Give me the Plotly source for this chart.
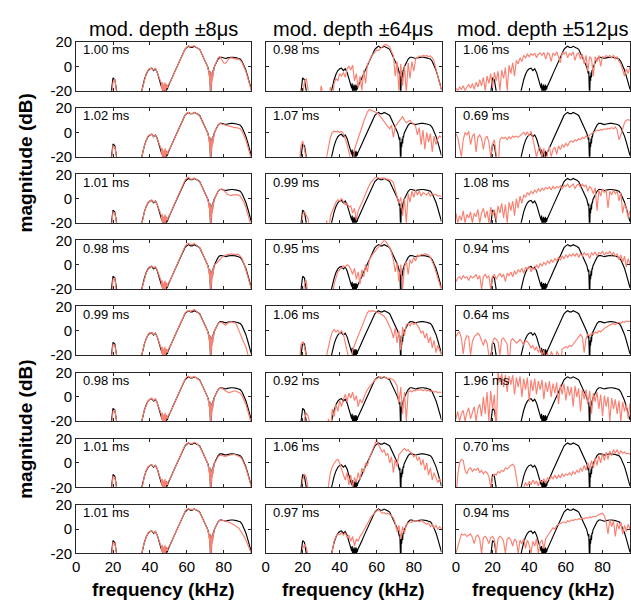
import plotly.graph_objects as go

# ---------------- data ----------------
COL_TITLES = ["mod. depth \u00b18\u03bcs", "mod. depth \u00b164\u03bcs", "mod. depth \u00b1512\u03bcs"]
DURATIONS = [
    ["1.00 ms", "1.02 ms", "1.01 ms", "0.98 ms", "0.99 ms", "0.98 ms", "1.01 ms", "1.01 ms"],
    ["0.98 ms", "1.07 ms", "0.99 ms", "0.95 ms", "1.06 ms", "0.92 ms", "1.06 ms", "0.97 ms"],
    ["1.06 ms", "0.69 ms", "1.08 ms", "0.94 ms", "0.64 ms", "1.96 ms", "0.70 ms", "0.94 ms"],
]
X_TICKS = [0, 20, 40, 60, 80]
Y_TICKS = [-20, 0, 20]
Y_TICKTEXT = ["-20", "0", "20"]

# frequency grids (kHz)
F_COARSE = list(range(96))
F_FINE = (list(range(0, 47)) + [46.25 + 0.25 * i for i in range(16)] + list(range(51, 72))
          + [71.25 + 0.25 * i for i in range(16)] + list(range(76, 96)))

# reference spectrum (black), on F_FINE
REF_DB = ([-30] * 19 + [-22, -9.5, -11, -30] + [-30] * 12
          + [-24, -17, -11, -6.5, -3.5, -2, -1.5, -3.5, -2, -5, -10, -14]
          + [-15, -18, -14, -22, -16, -30, -15, -30, -16, -25, -15, -20, -16, -19, -17, -16]
          + [-13, -9.5, -6, -2.5, 1, 4.5, 8, 11.5, 14, 15.5, 16.5, 15.5, 15.5, 16.5, 16, 15, 14, 11, 8, 4.5, 1]
          + [0, -1, -3, -2, -6, -4, -10, -30, -8, -12, -5, -9, -3, -4, -1, 0]
          + [3, 6, 7.5, 7.5, 7, 6.5, 7, 7.5, 7.5, 7.5, 7.5, 7, 6.5, 6, 4, 1, -3, -8, -13, -19])

# column 1 (+-8us), on F_FINE
C1_NOTCH_A = [-14, -19, -13, -25, -15, -30, -14, -30, -13, -22, -15, -18, -16, -18, -16, -15]
C1_NOTCH_B = [0, -3, -2, -8, -4, -13, -6, -30, -7, -16, -5, -10, -3, -5, -1, 0]
C1_PEAK = [
    [-30, -13, -10.5, -22], [-25, -11, -12, -30], [-26, -11, -12, -30], [-30, -12, -11, -25],
    [-25, -11, -12, -30], [-26, -12, -11, -28], [-25, -11, -12, -30], [-26, -11, -12, -30],
]
C1_BUMP = [
    [-30, -18, -12, -6, -3, -1.5, -2, -3, -1.5, -5, -10, -13],
    [-28, -17, -11, -6, -3, -2, -1.5, -3.5, -2, -5.5, -10, -14],
    [-26, -17, -11, -6.5, -3, -2, -1, -3, -2, -5, -9.5, -13],
    [-30, -18, -12, -7, -4, -2.5, -1, -2.5, -1.5, -4.5, -9, -13],
    [-28, -17, -11, -6, -3, -1.5, -1.5, -3, -2, -5, -10, -14],
    [-28, -17, -11, -6.5, -3.5, -2, -1, -3, -1.5, -5, -10, -13.5],
    [-27, -17, -11, -6, -3, -2, -1.5, -3, -2, -5, -10, -14],
    [-28, -17, -11, -6, -3, -2, -1.5, -3, -2, -5, -10, -14],
]
C1_MAIN = [
    [-13, -9.5, -6, -2.5, 1, 4.5, 8, 11.5, 14, 16, 17, 16, 16.5, 17, 16, 15, 14, 11, 8, 4.5, 1],
    [-13, -9.5, -6, -2.5, 1, 4.5, 8, 11.5, 14, 16, 16.5, 15.5, 15.5, 16.5, 16, 15, 13.5, 10.5, 7.5, 4, 0.5],
    [-12.5, -9, -5.5, -2, 1.5, 5, 8.5, 12, 15, 17, 17.5, 16, 16, 17, 16, 15, 13.5, 10.5, 7.5, 4, 0.5],
    [-13, -9.5, -6, -2.5, 1, 4.5, 8, 12, 15, 17, 17.5, 16.5, 16.5, 17.5, 16.5, 15.5, 14, 11, 7.5, 4, 0.5],
    [-13, -9.5, -6, -2.5, 1, 4.5, 8, 11.5, 14.5, 16, 16.5, 16, 16.5, 17.5, 16.5, 15, 13.5, 10.5, 7.5, 4, 0.5],
    [-13, -9.5, -6, -2.5, 1, 4.5, 8, 11.5, 14.5, 16.5, 17, 16, 16, 17, 16, 15, 13.5, 10.5, 7.5, 4, 0.5],
    [-13, -9.5, -6, -2.5, 1, 4.5, 8, 11.5, 14.5, 16, 16.5, 16, 16, 17, 16.5, 15, 13.5, 10.5, 7.5, 4, 0.5],
    [-13, -9.5, -6, -2.5, 1, 4.5, 8, 11.5, 14.5, 16.5, 16.5, 16, 16, 16.5, 16, 15, 13.5, 10.5, 7.5, 4, 0.5],
]
C1_TAIL = [
    [4, 7, 8, 6, 3, 2.5, 5, 6.5, 7, 6.5, 6.5, 6, 6, 5, 3, 0, -4, -9, -14, -20],
    [3, 6, 7.5, 7, 6.5, 6, 5.5, 5, 4.5, 4, 4, 4, 3.5, 3, 1, -2, -6, -11, -16, -22],
    [3, 6, 7.5, 8, 7, 5, 3.5, 3, 2.5, 3, 3, 3.5, 3, 2, 0, -3, -7, -12, -17, -23],
    [1, 3, 5, 6, 7, 8, 8.5, 8.5, 9, 8.5, 8.5, 9, 8.5, 7, 5, 1, -4, -9, -14, -20],
    [3, 6, 7, 7, 6, 4.5, 6, 7, 7.5, 7, 6.5, 5, 1, -3, -7, -10, -13, -17, -22, -30],
    [3, 6, 7.5, 7, 6, 4.5, 4, 3.5, 4, 4.5, 5, 4.5, 4, 3, 1, -2, -6, -11, -16, -22],
    [2, 5, 6.5, 6, 5.5, 5.5, 6, 6.5, 7, 7, 7, 6.5, 6, 5, 3, 0, -4, -9, -14, -20],
    [3, 6, 7.5, 7.5, 7, 7, 6.5, 6, 5, 4, 3, 2, 1, -1, -3, -6, -9, -13, -16, -20],
]

# column 2 (+-64us), on F_COARSE
C2_DB = [
    [-30] * 20 + [-25, -12, -10, -30, -30, -30, -30, -30, -30, -30,
                  -16, -30, -30, -30, -30, -17, -30, -14, -10, -12,
                  -6, -8, -5, -9, -2, 0, -3, 1, -12, -6,
                  -18, -8, -20, -3, -14, 2, 4, 8, 10, 12,
                  13.5, 13, 15, 16, 17.5, 18, 17, 16, 12, 9,
                  -8, 4, -20, 2, -16, 0, -22, 3, -10, 4,
                  -4, 6, 7, 8.5, 8, 9, 8.5, 9, 8, 8.5,
                  7, 4, -2, -8, -14, -20],
    [-30] * 19 + [-12,
                  -7, -14, -30, -30, -30, -30, -30, -30, -30, -30,
                  -30, -30, -30, -20, -10, -4, 0, 1, 0.5, 1,
                  0, 1, -1, -5, -10, -16, -22, -30, -14, -9,
                  -4, 0, 4, 9, 13, 17, 19, 18.5, 18, 17,
                  16, 15, 13, 11, 9, 7, 5, 3, 6, -4,
                  5, 7, 9, 12, 13, 10, 8, 9, 10, 8,
                  7, 5, -2, 4, -10, 2, -14, 0, -8, -1,
                  -16, -3, -10, -5, -3, -4],
    [-30] * 20 + [-13, -11, -14, -17, -30, -30, -30, -30, -30, -30,
                  -30, -30, -30, -18, -30, -14, -10, -6, -3, -1,
                  -2, 0, -3, -5, -4, -7, -6, -12, -8, -18,
                  -10, -7, -4, 0, 4, 8, 11, 13.5, 15.5, 17,
                  17.5, 17, 16.5, 17, 16.5, 16, 16, 15.5, 15, 13,
                  8, 2, -4, 1, -14, 0, -20, 4, -3, 6,
                  1, 7, 3, 6, 2, 5, 4, 3, 5, 2,
                  4, 3, 3.5, 2, 2.5, 1.5],
    [-30] * 20 + [-30, -16, -13, -30, -30, -30, -30, -30, -30, -30,
                  -30, -30, -30, -30, -30, -30, -30, -16, -10, -6,
                  -4, -3, -1, -2, 0, -1, -4, -8, -3, -12,
                  -6, -16, -4, -10, 0, -6, 4, 7, 9, 11,
                  13, 15, 17, 18.5, 20, 19, 17, 14, 10, 4,
                  -6, 2, -14, 0, -20, -2, 3, -8, 4, 1,
                  6, 3, 8, 7, 8.5, 8, 9, 8.5, 8, 6,
                  3, -1, -6, -11, -16, -21],
    [-30] * 19 + [-12,
                  -9, -13, -30, -30, -30, -30, -30, -30, -30, -30,
                  -30, -30, -30, -20, -12, -6, -1, 1, -1, 0.5,
                  -2, 0, -3, -8, -14, -20, -30, -16, -11, -8,
                  -4, 0, 4, 8, 12, 15, 16.5, 16, 16.5, 16,
                  15.5, 15, 14, 13, 12, 10, 7, 4, 0, -6,
                  2, -10, 0, -16, 3, -4, 5, 6, 4, 7,
                  5, 6.5, 4, 2, -2, 0, -6, -2, -10, -5,
                  -14, -8, -18, -12, -16, -20],
    [-30] * 20 + [-30, -18, -13, -16, -30, -30, -30, -30, -30, -30,
                  -30, -30, -30, -30, -18, -30, -10, -16, -6, -12,
                  -3, -8, -2, 2, -4, 3, -1, 4, -3, 1,
                  -8, -2, -5, 0, 3, 6, 8, 11, 12, 14,
                  15, 16, 16.5, 16, 16.5, 15.5, 15, 15.5, 14.5, 14,
                  12, 9, -5, 8, -14, 4, -20, 4, 5, 4,
                  5.5, 5, 6, 5.5, 6, 5, 6, 5, 5.5, 4.5,
                  5, 4, 4.5, 3.5, 4, 3.5],
    [-30] * 20 + [-14, -9, -12, -30, -30, -30, -30, -30, -30, -30,
                  -30, -30, -30, -30, -18, -8, -3, 0, 2, 3,
                  0, -5, -9, -14, -8, -18, -10, -20, -12, -16,
                  -8, -14, -4, -8, 0, -2, 4, 8, 12, 16,
                  19, 15, 12, 9, 11, 6, 8, 0, 5, -8,
                  3, -3, 7, 9, 11, 12, 10, 11, 9, 8,
                  5, 7, 2, 5, -2, 3, -6, 0, -10, -4,
                  -14, -8, -12, -16, -13, -17],
    [-30] * 20 + [-16, -13, -15, -30, -30, -30, -30, -30, -30, -30,
                  -30, -30, -30, -30, -30, -30, -18, -10, -6, -4,
                  -4.5, -3, -5, -3, -7, -5, -10, -6, -14, -8,
                  -10, -6, -4, -1, 2, 5, 8, 10, 12, 14,
                  15, 16, 14, 13, 13.5, 12.5, 13, 12, 11, 9,
                  5, -2, 3, -8, 2, -4, 4, 5, 6, 5.5,
                  7, 6.5, 7, 6, 7, 6, 5, 4, 5, 2,
                  4, 1, 3, 0, 2, 0],
]

# column 3 (+-512us), on F_COARSE
C3_DB = [
    [-18, -20, -17, -19, -16, -20, -17, -15, -18, -14,
     -19, -13, -17, -11, -16, -9, -20, -8, -14, -6,
     -18, -5, -12, -4, -20, -3, -10, -1, -20, 1,
     -6, 3, -8, 5, 2, 7, 4, 9, 7, 10,
     8, 10.5, 9, 11, 7, 10, 11, 9, 11.5, 6,
     11, 10, 4, 11, 9, 12, 8, 3, 11, 10,
     12, 7, 11, 9, 12, 5, 10, 11, 6, 10,
     2, 9, -4, 8, 6, -8, 8, 4, 9, 0,
     8, 7, 9, 8, 9, 7, 9, 6, 8, 4,
     2, -4, -8, -2, -6, 0],
    [-1, -4, -12, -20, -6, 0, -2, 1, -10, -3,
     -1, -16, -4, -2, -5, -14, -5, -3, -8, -20,
     -10, -6, -18, -30, -6, -4, -5, -4, -6, -3.5,
     -5, -3, -4, -3, -4, -2.5, -1, 0, -2, 0.5,
     -3, 1, -5, -12, -20, -14, -12, -20, -13, -30,
     -16, -12, -20, -14, -12, -18, -11, -14, -10, -12,
     -9, -11, -8, -7, -8, -6, -7, -5, -6, -4,
     -5, -3, -4, -2, -1, 0, 1, 2, 1.5, 2.5,
     2, 3, 2.5, 3.5, 3, 4, 3, 4.5, 2, -6,
     -2, 4, 8, 10, 10.5, 10],
    [-12, -20, -14, -18, -10, -20, -13, -16, -11, -20,
     -12, -15, -9, -20, -12, -8, -16, -10, -20, -7,
     -14, -9, -18, -6, -12, -4, -16, -5, -20, -3,
     -10, -2, -14, 0, -8, 2, -4, 3, 1, 5,
     3, 6, 4, 7, 5, 8, 6, 8.5, 7, 9,
     8, 9.5, 7, 10, 8, 10, 9, 10.5, 8, 11,
     10, 12, 9, 11, 12, 8, 11, 12, 9, 12,
     10, 11, 6, 10, 8, 4, 9, -10, 7, 2,
     8, 5, 7, -8, 6, 3, 7, 4, 6, -2,
     5, -12, -4, -8, -16, -10],
    [-14, -11, -10, -12, -9, -11, -10, -13, -9, -11,
     -10, -8, -12, -9, -20, -10, -8, -11, -9, -20,
     -10, -8, -12, -9, -7, -10, -8, -14, -7, -9,
     -6, -10, -5, -8, -4, -6, -3, -7, -2, -4,
     -1, -6, -2, -4, 0, -3, 1, -1, 2, 0,
     3, 1, 4, 2, 5, 3, 6, 4, 7, 5,
     8, 6, 8.5, 7, 9, 7, 9.5, 6, 9, 7,
     10, 8, 9, 5, 10, 8, 10.5, 7, 10, 9,
     11, 8, 10, 9, 11, 8, 10, 7, 9, 4,
     8, 2, 7, -2, 5, 0],
    [-5, -2, -1, -6, -19, -8, -4, -5, -20, -9,
     -5, -3, -2, -4, -8, -12, -7, -10, -20, -30,
     -9, -6, -7, -9, -20, -7, -6, -8, -11, -30,
     -8, -6.5, -8, -10, -9, -7, -9, -12, -8, -9,
     -11, -14, -12, -16, -13, -18, -14, -20, -16, -30,
     -18, -30, -17, -20, -30, -17, -19, -30, -15, -14,
     -13, -14, -12, -13, -11, -8, -6, -4, -3, -5,
     -18, -6, -3, -4, -2, -3, -1, -2, 0, -1,
     1, 2, 3, 4, 5, 5.5, 6, 5, 6.5, 7,
     6, 7.5, 7, 8, 7.5, 8],
    [-18, -12, -20, -14, -11, -20, -13, -9, -18, -12,
     -8, -20, -10, -6, -16, 0, -14, 4, -20, 5,
     -10, 2, -30, 20, 12, 19, 8, 18, 4, 17,
     10, 18, 2, 16, 8, 17, 0, 15, 6, 16,
     -4, 14, 5, 15, 2, 13, 6, 14, -2, 12,
     4, 13, 0, 11, 3, 12, -6, 10, 2, 11,
     -3, 9, 1, 8, -8, 9, 0, 7, -12, 6,
     -2, 6, -6, 5, -14, 3, -4, 4, -10, 2,
     -16, 1, -8, 0, -20, -1, -10, -2, -14, -3,
     -20, -4, -12, -6, -18, -5],
    [-30, -10, 0, 3, 2, -6, -9, -5, -4, -7,
     -5, -6, -4, -8, -6, -9, -7, -8, -11, -20,
     -12, -9, -10, -7, -8, -6, -7, -4, -5, -3,
     -2, -1, -3, -12, -30, -30, -30, -20, -16, -19,
     -15, -18, -14, -17, -15, -19, -14, -16, -13, -17,
     -12, -14, -11, -13, -10, -13, -10, -12, -9, -11,
     -9, -10, -8, -10, -7, -9, -6, -8, -4, -7,
     -2, -6, 0, -5, 2, -4, 4, -2, 6, 0,
     8, 2, 9, 3, 10, 6, 11, 8, 11, 7,
     10, 8, 9, 7.5, 8, 7],
    [-20, -14, -8, -4, -5, -4, -6, -5, -4, -7,
     -12, -6, -5, -8, -20, -7, -6, -8, -12, -7,
     -6, -9, -20, -8, -6, -7, -10, -20, -8, -7,
     -9, -14, -8, -10, -20, -9, -12, -8, -16, -9,
     -13, -20, -10, -14, -8, -20, -11, -9, -16, -8,
     -6, -3, -1, 1, 0, 3, 4, 5, 5.5, 6,
     5, 7, 6, 7.5, 7, 8, 7.5, 8.5, 8, 9,
     8.5, 9.5, 9, 10, 9.5, 10.5, 10, 11, 12, 12.5,
     13, 11, 6, -4, 8, 2, 7, -6, 5, 0,
     6, -4, 3, -2, 4, 0],
]

# ---------------- figure ----------------
W, H = 631, 610
COL_PX = [(72.7, 249.3), (263.7, 441.0), (455.5, 631.0)]
COL_W = 176.6
ROW_TOP0, ROW_STEP, ROW_H = 34.0, 68.0, 50.0
BLACK = "#000000"
SALMON = "#FA8072"
FONT = "Liberation Sans, Arial, sans-serif"
FRAME = "#262626"

assert len(F_FINE) == len(REF_DB), (len(F_FINE), len(REF_DB))

fig = go.Figure()
annotations = []
for c in range(3):
    for r in range(8):
        k = r * 3 + c + 1
        sx = "x" if k == 1 else f"x{k}"
        sy = "y" if k == 1 else f"y{k}"
        if c == 0:
            fx = F_FINE
            sal = (([-30] * 19) + C1_PEAK[r] + ([-30] * 12) + C1_BUMP[r] + C1_NOTCH_A
                   + C1_MAIN[r] + C1_NOTCH_B + C1_TAIL[r])
        elif c == 1:
            fx = F_COARSE
            sal = C2_DB[r]
        else:
            fx = F_COARSE
            sal = C3_DB[r]
        assert len(fx) == len(sal), (c, r, len(fx), len(sal))
        fig.add_trace(go.Scatter(x=F_FINE, y=REF_DB, mode="lines", xaxis=sx, yaxis=sy,
                                 line=dict(color=BLACK, width=1.15), showlegend=False, hoverinfo="skip"))
        fig.add_trace(go.Scatter(x=fx, y=sal, mode="lines", xaxis=sx, yaxis=sy,
                                 line=dict(color=SALMON, width=1.15), showlegend=False, hoverinfo="skip"))

        x0, x1 = COL_PX[c]
        top = ROW_TOP0 + r * ROW_STEP
        bot = top + ROW_H
        xa = dict(domain=[x0 / W, x1 / W], range=[0, 95], anchor=sy,
                  tickvals=X_TICKS, ticks="inside", ticklen=3, tickwidth=1, tickcolor=FRAME,
                  showline=True, linecolor=FRAME, linewidth=1, mirror="ticks",
                  showgrid=False, zeroline=False, showticklabels=(r == 7),
                  tickfont=dict(family=FONT, size=15, color="#000"))
        ya = dict(domain=[1 - bot / H, 1 - top / H], range=[-20, 20], anchor=sx,
                  tickvals=Y_TICKS, ticktext=Y_TICKTEXT, ticks="inside", ticklen=3, tickwidth=1,
                  tickcolor=FRAME, showline=True, linecolor=FRAME, linewidth=1, mirror="ticks",
                  showgrid=False, zeroline=False, showticklabels=(c == 0),
                  tickfont=dict(family=FONT, size=15, color="#000"))
        fig.layout["xaxis" if k == 1 else f"xaxis{k}"] = xa
        fig.layout["yaxis" if k == 1 else f"yaxis{k}"] = ya

        annotations.append(dict(text=DURATIONS[c][r], xref="paper", yref="paper",
                                x=(x0 + 5) / W, y=1 - (top + 8) / H, xanchor="left", yanchor="middle",
                                showarrow=False, font=dict(family=FONT, size=13, color="#000")))

for c in range(3):
    x0 = COL_PX[c][0]
    xc = x0 + COL_W / 2
    annotations.append(dict(text=COL_TITLES[c], xref="paper", yref="paper",
                            x=xc / W, y=1 - 21 / H, xanchor="center", yanchor="middle",
                            showarrow=False, font=dict(family=FONT, size=20, color="#000")))
    annotations.append(dict(text="<b>frequency (kHz)</b>", xref="paper", yref="paper",
                            x=xc / W, y=1 - 597 / H, xanchor="center", yanchor="middle",
                            showarrow=False, font=dict(family=FONT, size=19, color="#000")))

for yc in (158, 432):
    annotations.append(dict(text="<b>magnitude (dB)</b>", xref="paper", yref="paper",
                            x=22 / W, y=1 - yc / H, xanchor="center", yanchor="middle", textangle=-90,
                            showarrow=False, font=dict(family=FONT, size=19, color="#000")))

fig.update_layout(width=W, height=H, autosize=False,
                  margin=dict(l=0, r=0, t=0, b=0, pad=0),
                  paper_bgcolor="white", plot_bgcolor="white",
                  annotations=annotations)

fig.write_html("out.html", config={"displayModeBar": False},
               post_script="document.body.style.margin='0px';document.body.style.overflow='hidden';")
